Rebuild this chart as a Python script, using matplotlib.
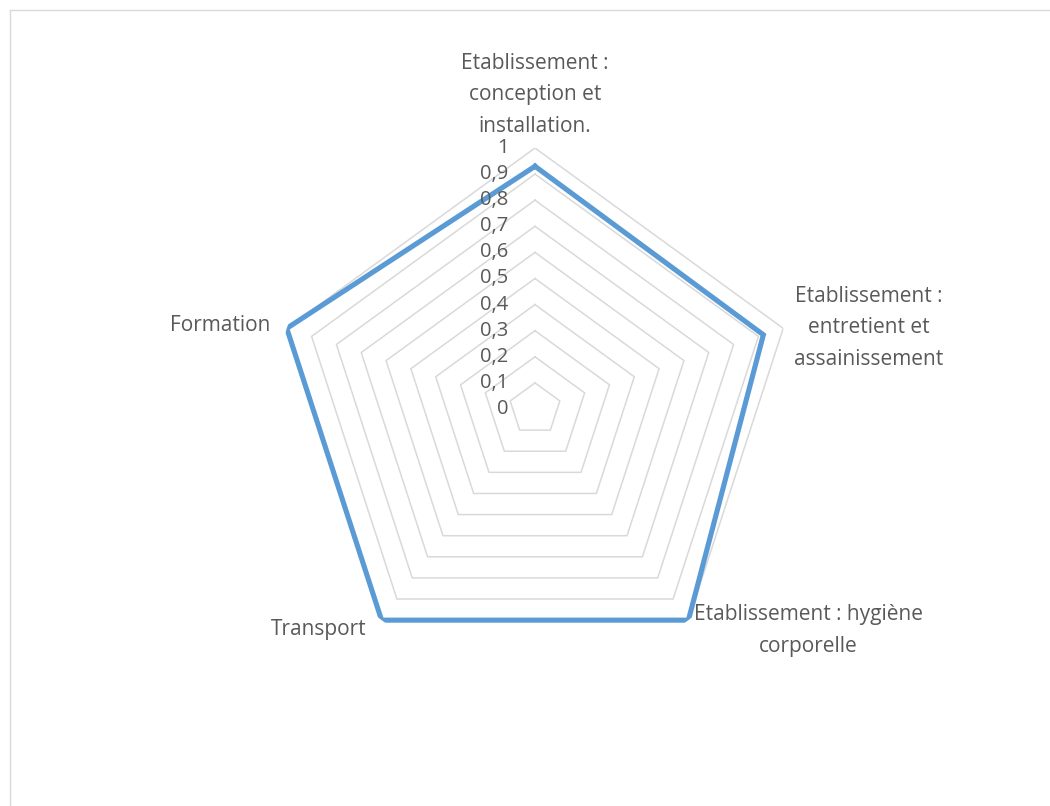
import numpy as np
import matplotlib
matplotlib.use("Agg")
import matplotlib.pyplot as plt
from matplotlib.lines import Line2D

categories = [
    "Etablissement :\nconception et\ninstallation.",
    "Etablissement :\nentretient et\nassainissement",
    "Etablissement : hygiène\ncorporelle",
    "Transport",
    "Formation",
]
values = [0.93, 0.92, 1.0, 1.0, 1.0]
levels = [0.1, 0.2, 0.3, 0.4, 0.5, 0.6, 0.7, 0.8, 0.9, 1.0]
level_labels = ["0", "0,1", "0,2", "0,3", "0,4", "0,5", "0,6", "0,7", "0,8", "0,9", "1"]

text_color = "#595959"
grid_color = "#D9D9D9"
line_color = "#5B9BD5"

plt.rcParams["font.family"] = ["Open Sans", "DejaVu Sans"]

W, H = 1050, 806
fig = plt.figure(figsize=(W / 100, H / 100), dpi=100)

# axes placed so that the centre sits at (535, 409) px with radius 261 px
cx, cy, rad = 535, 409, 261
ax = fig.add_axes([(cx - rad) / W, (H - cy - rad) / H, 2 * rad / W, 2 * rad / H],
                  projection="polar")
ax.set_theta_offset(np.pi / 2)
ax.set_theta_direction(-1)
ax.set_ylim(0, 1)
ax.grid(False)
ax.spines["polar"].set_visible(False)
ax.set_xticks([])
ax.set_yticks([])
ax.patch.set_alpha(0)

n = len(categories)
angles = np.linspace(0, 2 * np.pi, n, endpoint=False)
closed = np.append(angles, angles[0])

for lv in levels:
    ax.plot(closed, [lv] * (n + 1), color=grid_color, lw=1.1, zorder=1)

ax.plot(closed, values + [values[0]], color=line_color, lw=3.7,
        solid_joinstyle="miter", zorder=3)

# radial value labels along the top axis
for i, lab in enumerate(level_labels):
    ax.annotate(lab, xy=(0, i / 10), xytext=(-19, 0), textcoords="offset points",
                ha="right", va="center", fontsize=14.5, color=text_color,
                annotation_clip=False, zorder=4)

# category labels
offsets = [(0, 8, "center", "bottom"),
           (8, 0.5, "left", "center"),
           (4, -7.5, "left", "center"),
           (-11, -7, "right", "center"),
           (-12, 2, "right", "center")]
for ang, lab, (dx, dy, ha, va) in zip(angles, categories, offsets):
    ax.annotate(lab, xy=(ang, 1.0), xytext=(dx, dy), textcoords="offset points",
                ha=ha, va=va, multialignment="center", fontsize=15,
                color=text_color, linespacing=1.65, annotation_clip=False)

# chart area border (top and left visible)
fig.add_artist(Line2D([9.5 / W, 1], [1 - 9.5 / H, 1 - 9.5 / H], color=grid_color, lw=1))
fig.add_artist(Line2D([9.5 / W, 9.5 / W], [0, 1 - 9.5 / H], color=grid_color, lw=1))

fig.savefig("out.png", dpi=100)
